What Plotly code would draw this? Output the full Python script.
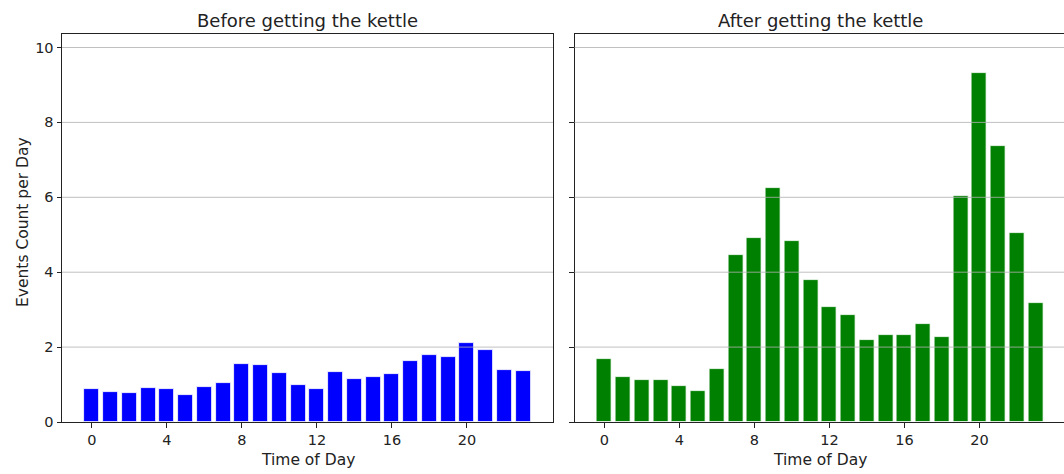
import plotly.graph_objects as go

hours = list(range(24))
before_counts = [0.87, 0.80, 0.78, 0.91, 0.87, 0.72, 0.93, 1.03, 1.56, 1.53, 1.30, 0.99,
                 0.89, 1.34, 1.14, 1.20, 1.28, 1.62, 1.79, 1.73, 2.11, 1.92, 1.40, 1.37]
after_counts = [1.67, 1.19, 1.12, 1.12, 0.95, 0.84, 1.42, 4.45, 4.90, 6.25, 4.83, 3.80,
                3.07, 2.86, 2.20, 2.33, 2.33, 2.63, 2.26, 6.03, 9.32, 7.37, 5.06, 3.19]
titles = ["Before getting the kettle", "After getting the kettle"]
x_label = "Time of Day"
y_label = "Events Count per Day"
x_ticks = [0, 4, 8, 12, 16, 20]
y_ticks = [0, 2, 4, 6, 8, 10]

W, H = 1064, 474
FONT = "DejaVu Sans"
TXT = "#222"

fig = go.Figure()
fig.add_trace(go.Bar(x=hours, y=before_counts, width=0.8,
                     marker=dict(color="#0000ff", line=dict(color="white", width=0.8)),
                     xaxis="x", yaxis="y", showlegend=False))
fig.add_trace(go.Bar(x=hours, y=after_counts, width=0.8,
                     marker=dict(color="#008000", line=dict(color="white", width=0.8)),
                     xaxis="x2", yaxis="y2", showlegend=False))

# pixel layout
L1, R1 = 62, 553
L2, R2 = 574.5, W
T, B = 34, 422
xr = [-1.59, 24.59]
scale = (R1 - L1) / (xr[1] - xr[0])
xr2 = [xr[0], xr[0] + (R2 - L2) / scale]
yr = [0, (B - T) / 37.45]

axis_common = dict(showgrid=False, zeroline=False, showline=True, linecolor="#222", linewidth=1,
                   ticks="outside", ticklen=4.5, tickwidth=1, tickcolor="#222", automargin=False,
                   tickfont=dict(family=FONT, size=14.5, color=TXT))

fig.update_layout(
    width=W, height=H, margin=dict(l=0, r=0, t=0, b=0, pad=0),
    paper_bgcolor="white", plot_bgcolor="white",
    bargap=0,
    xaxis=dict(domain=[L1 / W, R1 / W], range=xr, tickvals=x_ticks, mirror=True, anchor="y", **axis_common),
    yaxis=dict(domain=[1 - B / H, 1 - T / H], range=yr, tickvals=y_ticks, mirror=True, anchor="x", **axis_common),
    xaxis2=dict(domain=[L2 / W, R2 / W], range=xr2, tickvals=x_ticks, mirror=True, anchor="y2", **axis_common),
    yaxis2=dict(domain=[1 - B / H, 1 - T / H], range=yr, tickvals=y_ticks, mirror=False, anchor="x2",
                showticklabels=False, **axis_common),
)

shapes = []
for xa, ya in [("x", "y"), ("x2", "y2")]:
    for v in y_ticks[1:]:
        shapes.append(dict(type="line", xref=f"{xa} domain", yref=ya, x0=0, x1=1, y0=v, y1=v,
                           line=dict(color="rgba(176,176,176,0.8)", width=1), layer="above"))
fig.update_layout(shapes=shapes)

full_w = R1 - L1
annotations = []
for title, l in zip(titles, [L1, L2]):
    cx = (l + l + full_w) / 2 / W
    annotations.append(dict(text=title, x=cx, y=1 - 20.5 / H, xref="paper", yref="paper",
                            xanchor="center", yanchor="middle", showarrow=False,
                            font=dict(family=FONT, size=18, color=TXT)))
    annotations.append(dict(text=x_label, x=cx, y=1 - 459.5 / H, xref="paper", yref="paper",
                            xanchor="center", yanchor="middle", showarrow=False,
                            font=dict(family=FONT, size=15.5, color=TXT)))
annotations.append(dict(text=y_label, x=22.5 / W, y=1 - 222.5 / H, xref="paper", yref="paper",
                        xanchor="center", yanchor="middle", showarrow=False, textangle=-90,
                        font=dict(family=FONT, size=15.5, color=TXT)))
fig.update_layout(annotations=annotations)

fig.write_html("out.html", config={"displayModeBar": False},
               post_script="document.body.style.margin='0';document.body.style.overflow='hidden';")
